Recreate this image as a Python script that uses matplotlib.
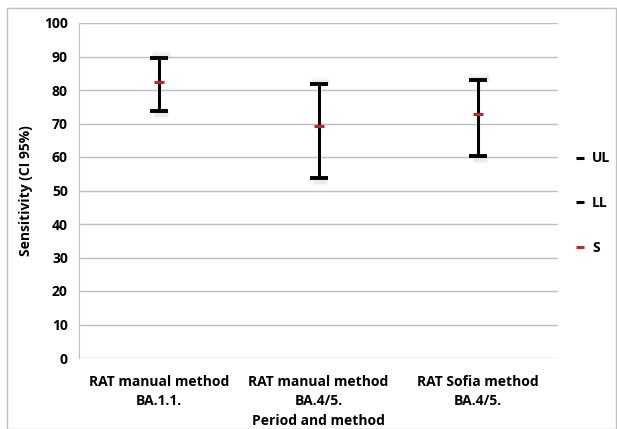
import matplotlib.pyplot as plt
import matplotlib.patches as patches
from matplotlib.lines import Line2D

categories = ['RAT manual method\nBA.1.1.', 'RAT manual method\nBA.4/5.', 'RAT Sofia method\nBA.4/5.']
upper = [89.6, 81.8, 83.0]
lower = [73.6, 53.6, 60.2]
sens = [82.5, 69.2, 72.8]

plt.rcParams['font.family'] = ['Open Sans', 'DejaVu Sans']
plt.rcParams['font.weight'] = 'bold'

fig = plt.figure(figsize=(6.17, 4.29), dpi=100)
ax = fig.add_axes([79 / 617, 1 - 358 / 429, 479 / 617, 335 / 429])

x = list(range(len(categories)))

# soft shadows behind the caps
for xi, u, l in zip(x, upper, lower):
    for w, a in [(6, 0.08), (3.5, 0.15)]:
        ax.plot([xi + 0.012], [u + 0.7], marker='_', ms=13, mew=w, color='#a0a0a0', alpha=a, zorder=2)
        ax.plot([xi + 0.012], [l - 0.7], marker='_', ms=10, mew=w, color='#a0a0a0', alpha=a, zorder=2)

ax.vlines(x, lower, upper, color='black', lw=2.2, zorder=3)
ax.plot(x, upper, ls='none', marker='_', ms=12.5, mew=2.8, color='black', zorder=4)
ax.plot(x, lower, ls='none', marker='_', ms=12.5, mew=2.8, color='black', zorder=4)
ax.plot(x, sens, ls='none', marker='_', ms=7, mew=2.2, color='#c0262d', zorder=5)

ax.set_xlim(-0.5, 2.5)
ax.set_ylim(0, 100)
ax.set_yticks(range(0, 101, 10))
ax.set_xticks(x)
ax.set_xticklabels(categories, fontsize=10, fontweight='bold', linespacing=1.45)
ax.tick_params(axis='y', labelsize=10, length=0, pad=8)
ax.tick_params(axis='x', length=0, pad=12)
ax.grid(axis='y', color='#bfbfbf', lw=1)
ax.set_axisbelow(True)
for s in ['top', 'right', 'bottom']:
    ax.spines[s].set_visible(False)
ax.spines['left'].set_color('#bfbfbf')

ax.set_ylabel('Sensitivity (CI 95%)', fontsize=10, fontweight='bold', labelpad=8)
ax.set_xlabel('Period and method', fontsize=10, fontweight='bold', labelpad=4.5)

handles = [Line2D([], [], ls='none', marker='_', ms=6, mew=2.2, color='black'),
           Line2D([], [], ls='none', marker='_', ms=6, mew=2.2, color='black'),
           Line2D([], [], ls='none', marker='_', ms=6, mew=2.2, color='#c0262d')]
fig.legend(handles, ['UL', 'LL', 'S'], loc='center left', bbox_to_anchor=(563 / 617, 1 - 203 / 429),
           frameon=False, fontsize=10, labelspacing=2.2, handlelength=0.6, handletextpad=0.6)

fig.patches.append(patches.Rectangle((7 / 617, 0), 609 / 617, 1 - 8 / 429, transform=fig.transFigure,
                                     fill=False, edgecolor='#bfbfbf', lw=1))

fig.savefig('out.png', dpi=100)
